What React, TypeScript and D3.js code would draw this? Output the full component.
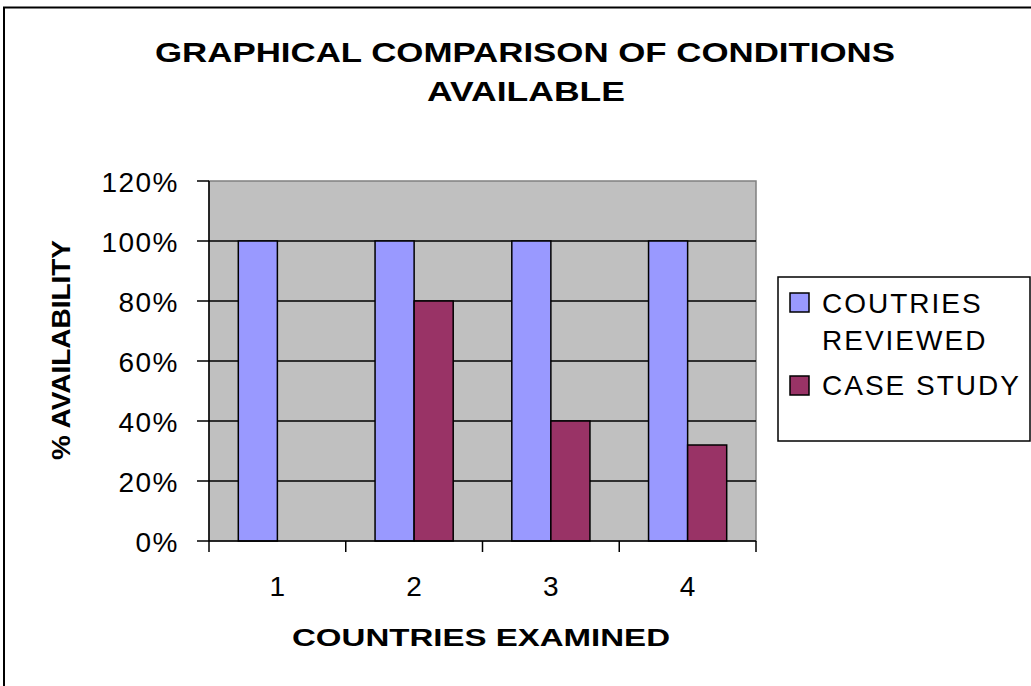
import React from "react";
import * as d3 from "d3";

const categories = ["1", "2", "3", "4"];
const seriesNames = ["COUTRIES REVIEWED", "CASE STUDY"];
const countriesReviewed = [1.0, 1.0, 1.0, 1.0];
const caseStudy = [0, 0.8, 0.4, 0.32];
const yTicks = [0, 0.2, 0.4, 0.6, 0.8, 1.0, 1.2];
const colors = ["#9999FF", "#993366"];

const W = 1031;
const H = 686;
const plot = { left: 209, right: 756, top: 181, bottom: 541 };
const FONT = "'Liberation Sans', Arial, Helvetica, sans-serif";

export default function App() {
  const x0 = d3.scaleBand<string>().domain(categories).range([plot.left, plot.right]).padding(0);
  const y = d3.scaleLinear().domain([0, 1.2]).range([plot.bottom, plot.top]);
  const bw = x0.bandwidth();
  const barW = bw / 3.5;
  const x1 = d3
    .scaleBand<number>()
    .domain([0, 1])
    .range([barW * 0.75, barW * 2.75])
    .padding(0);
  const series = [countriesReviewed, caseStudy];
  const fmt = d3.format(".0%");

  return (
    <svg
      width={W}
      height={H}
      style={{ position: "absolute", left: 0, top: 0, background: "#fff" }}
      fontFamily={FONT}
    >
      <rect x={0} y={0} width={W} height={H} fill="#fff" />
      {/* outer chart border */}
      <rect x={4} y={7.5} width={W + 20} height={H + 20} fill="none" stroke="#000" strokeWidth={2} />

      {/* title */}
      <text x={525} y={62} textAnchor="middle" fontWeight="bold" fontSize={28} textLength={740} lengthAdjust="spacingAndGlyphs">
        GRAPHICAL COMPARISON OF CONDITIONS
      </text>
      <text x={526} y={101} textAnchor="middle" fontWeight="bold" fontSize={28} textLength={198} lengthAdjust="spacingAndGlyphs">
        AVAILABLE
      </text>

      {/* plot area */}
      <rect x={plot.left} y={plot.top} width={plot.right - plot.left} height={plot.bottom - plot.top} fill="#C0C0C0" stroke="#808080" strokeWidth={1.5} />

      {/* gridlines */}
      {yTicks.slice(1, -1).map((t) => (
        <line key={"g" + t} x1={plot.left} x2={plot.right} y1={y(t)} y2={y(t)} stroke="#000" strokeWidth={1.5} />
      ))}

      {/* bars */}
      {categories.map((c, i) => (
        <g key={c} transform={`translate(${x0(c)},0)`}>
          {series.map((s, j) =>
            s[i] > 0 ? (
              <rect
                key={j}
                x={x1(j)}
                y={y(s[i])}
                width={x1.bandwidth()}
                height={y(0) - y(s[i])}
                fill={colors[j]}
                stroke="#000"
                strokeWidth={1.5}
              />
            ) : null
          )}
        </g>
      ))}

      {/* y axis */}
      <line x1={plot.left} x2={plot.left} y1={plot.top} y2={plot.bottom} stroke="#000" strokeWidth={1.5} />
      {yTicks.map((t) => (
        <g key={"y" + t}>
          <line x1={plot.left - 12} x2={plot.left} y1={y(t)} y2={y(t)} stroke="#000" strokeWidth={1.5} />
          <text x={179} y={y(t) + 11} textAnchor="end" fontSize={28} letterSpacing={1.5}>
            {fmt(t)}
          </text>
        </g>
      ))}

      {/* x axis */}
      <line x1={plot.left} x2={plot.right} y1={plot.bottom} y2={plot.bottom} stroke="#000" strokeWidth={1.5} />
      {[...categories.map((c) => x0(c) as number), plot.right].map((xv, i) => (
        <line key={"xt" + i} x1={xv} x2={xv} y1={plot.bottom} y2={plot.bottom + 11} stroke="#000" strokeWidth={1.5} />
      ))}
      {categories.map((c) => (
        <text key={"xl" + c} x={(x0(c) as number) + bw / 2} y={596} textAnchor="middle" fontSize={28}>
          {c}
        </text>
      ))}

      {/* axis titles */}
      <text x={481} y={646} textAnchor="middle" fontWeight="bold" fontSize={24} textLength={378} lengthAdjust="spacingAndGlyphs">
        COUNTRIES EXAMINED
      </text>
      <text
        transform="translate(70,350) rotate(-90)"
        textAnchor="middle"
        fontWeight="bold"
        fontSize={25}
        textLength={220}
        lengthAdjust="spacingAndGlyphs"
      >
        % AVAILABILITY
      </text>

      {/* legend */}
      <rect x={778} y={277} width={252} height={164} fill="#fff" stroke="#000" strokeWidth={1.5} />
      <rect x={790} y={293} width={19} height={19} fill={colors[0]} stroke="#000" strokeWidth={1.5} />
      <text x={822} y={313} fontSize={28} letterSpacing={2}>COUTRIES</text>
      <text x={822} y={350} fontSize={28} letterSpacing={2}>REVIEWED</text>
      <rect x={790} y={376} width={19} height={19} fill={colors[1]} stroke="#000" strokeWidth={1.5} />
      <text x={822} y={395} fontSize={28} letterSpacing={2}>{seriesNames[1]}</text>
    </svg>
  );
}
